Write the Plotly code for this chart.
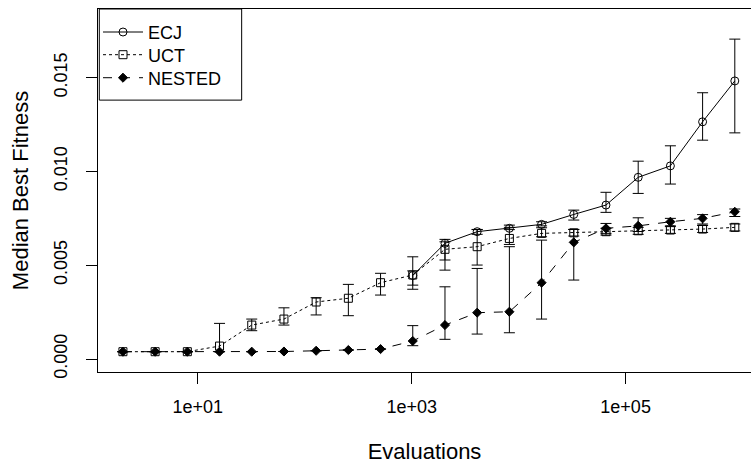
import plotly.graph_objects as go

evaluations = [2, 4, 8, 16, 32, 64, 128, 256, 512, 1024, 2048, 4096, 8192,
               16384, 32768, 65536, 131072, 262144, 524288, 1048576]

ecj_med = [None] * 9 + [0.00445, 0.00617, 0.00679, 0.00697, 0.00718, 0.00771,
                        0.00821, 0.00969, 0.0103, 0.01265, 0.01483]
ecj_lo = [None] * 9 + [0.00394, 0.00528, 0.00665, 0.0069, 0.0071, 0.00741,
                       0.00782, 0.00883, 0.00933, 0.01167, 0.01206]
ecj_hi = [None] * 9 + [0.0047, 0.00638, 0.00691, 0.00714, 0.00732, 0.00794,
                       0.00889, 0.01055, 0.01137, 0.0142, 0.01706]

uct_med = [0.00039, 0.00039, 0.00039, 0.00069, 0.00181, 0.00213, 0.00304, 0.00324,
           0.00407, 0.00448, 0.00585, 0.00599, 0.00643, 0.0067, 0.00673, 0.00679,
           0.00684, 0.00688, 0.00693, 0.00702]
uct_lo = [None, None, None, 0.0004, 0.00151, 0.00181, 0.00235, 0.00231, 0.00341,
          0.00372, 0.00474, 0.00501, 0.00611, 0.00652, 0.00656, 0.00661, 0.00665,
          0.0067, 0.00675, 0.00683]
uct_hi = [None, None, None, 0.0019, 0.00213, 0.00273, 0.00327, 0.00398, 0.00457,
          0.00545, 0.00625, 0.0069, 0.00702, 0.007, 0.00691, 0.00697, 0.00702,
          0.00706, 0.00712, 0.0072]

nested_med = [0.00039, 0.00039, 0.00039, 0.00039, 0.00039, 0.0004, 0.00044, 0.00048,
              0.00053, 0.00096, 0.00181, 0.00247, 0.00252, 0.00407, 0.00622, 0.00697,
              0.0071, 0.00732, 0.0075, 0.00785]
nested_lo = [None] * 9 + [0.00071, 0.00105, 0.00133, 0.0014, 0.00213, 0.00421,
                          0.0067, 0.0068, 0.0071, 0.0072, 0.0076]
nested_hi = [None] * 9 + [0.00178, 0.00385, 0.00483, 0.00599, 0.00634, 0.00691,
                          0.00723, 0.00753, 0.0075, 0.0077, 0.008]

x_ticks = [10, 1000, 100000]
x_tick_labels = ["1e+01", "1e+03", "1e+05"]
y_ticks = [0, 0.005, 0.010, 0.015]
y_tick_labels = ["0.000", "0.005", "0.010", "0.015"]

FONT = "Liberation Sans, Arial, Helvetica, sans-serif"


def err(med, lo, hi):
    plus, minus = [], []
    for m, l, h in zip(med, lo, hi):
        if m is None or l is None or h is None:
            plus.append(None)
            minus.append(None)
        else:
            plus.append(h - m)
            minus.append(m - l)
    return plus, minus


series = [
    ("ECJ", ecj_med, ecj_lo, ecj_hi, "solid", "circle-open", 8, "legend", 0.9358),
    ("UCT", uct_med, uct_lo, uct_hi, "dot", "square-open", 8, "legend2", 0.8733),
    ("NESTED", nested_med, nested_lo, nested_hi, "dash", "diamond", 7, "legend3", 0.8099),
]

fig = go.Figure()
legend_layouts = {}
for name, med, lo, hi, dash, sym, size, leg, ly in series:
    plus, minus = err(med, lo, hi)
    fig.add_trace(go.Scatter(
        x=evaluations, y=med, name=name, mode="lines+markers",
        line=dict(color="black", width=1, dash=dash),
        marker=dict(symbol=sym, size=size, color="black",
                    line=dict(color="black", width=1)),
        error_y=dict(type="data", symmetric=False, array=plus, arrayminus=minus,
                     color="black", thickness=1, width=5.5),
        connectgaps=False, legend=leg,
    ))
    legend_layouts[leg] = dict(x=0.0, y=ly, xanchor="left", yanchor="middle",
                               bgcolor="rgba(0,0,0,0)", borderwidth=0,
                               font=dict(size=18), itemwidth=40)

# legend frame (R-style boxed legend)
fig.add_shape(type="rect", xref="paper", yref="paper",
              x0=0.002, x1=0.22, y0=0.749, y1=1.0,
              line=dict(color="black", width=1), fillcolor="rgba(0,0,0,0)")

fig.update_layout(
    width=751, height=464,
    margin=dict(l=98, r=0, t=9, b=92),
    paper_bgcolor="white", plot_bgcolor="white",
    font=dict(family=FONT, size=18, color="black"),
    showlegend=True,
    xaxis=dict(type="log", range=[0.068, 6.172],
               tickvals=x_ticks, ticktext=x_tick_labels,
               ticks="outside", ticklen=11, tickcolor="black", tickwidth=1,
               showline=True, linecolor="black", linewidth=1, mirror=True,
               showgrid=False, zeroline=False, ticklabelstandoff=7,
               title=dict(text="Evaluations", standoff=29)),
    yaxis=dict(range=[-0.000693, 0.018666],
               tickvals=y_ticks, ticktext=y_tick_labels, tickangle=-90,
               ticks="outside", ticklen=11, tickcolor="black", tickwidth=1,
               showline=True, linecolor="black", linewidth=1, mirror=False,
               showgrid=False, zeroline=False, ticklabelstandoff=12,
               title=dict(text="Median Best Fitness", standoff=16)),
)
fig.update_layout(**legend_layouts)

fig.write_html("out.html")
